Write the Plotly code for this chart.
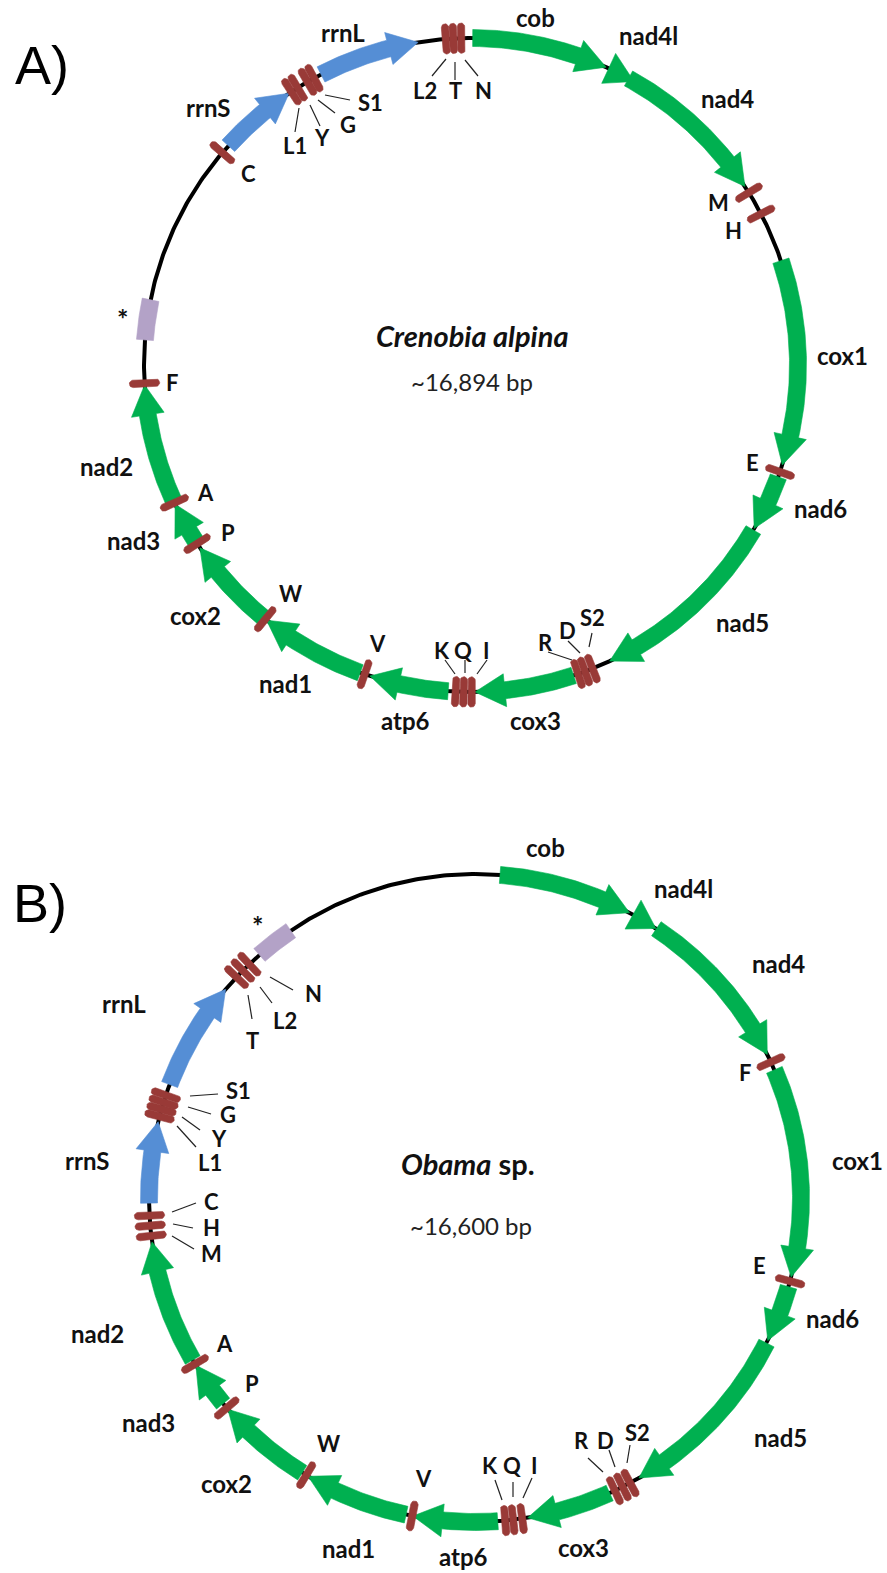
import math
import plotly.graph_objects as go

FIG_W, FIG_H = 887, 1573

# ---------------- Map A: Crenobia alpina ----------------
# positions are angles in degrees, clockwise from 12 o'clock
A_gene_name = ["cob", "nad4l", "nad4", "cox1", "nad6", "nad5", "cox3", "atp6",
               "nad1", "cox2", "nad3", "nad2", "*", "rrnS", "rrnL"]
A_gene_start = [0.3, 24.9, 28.8, 71.4, 110.0, 120.3, 161.7, 184.0,
                199.8, 219.4, 237.3, 245.6, 274.4, 312.1, 332.7]
A_gene_end = [24.4, 29.9, 56.9, 107.8, 120.0, 154.9, 179.3, 198.0,
              218.7, 236.0, 244.8, 266.5, 281.5, 326.2, 350.7]
A_gene_type = ["protein"] * 12 + ["noncoding", "rRNA", "rRNA"]

A_trna_name = ["L2", "T", "N", "M", "H", "E", "S2", "D", "R", "I", "Q", "K",
               "V", "W", "P", "A", "F", "C", "L1", "Y", "G", "S1"]
A_trna_pos = [355.6, 356.9, 358.3, 58.2, 62.5, 109.1, 158.2, 159.6, 160.9,
              179.9, 181.3, 182.7, 199.0, 219.0, 236.9, 245.1, 266.8, 310.5,
              326.7, 328.0, 330.0, 331.3]

A_species = "<i>Crenobia alpina</i>"
A_size = "~16,894 bp"

# ---------------- Map B: Obama sp. ----------------
B_gene_name = ["cob", "nad4l", "nad4", "cox1", "nad6", "nad5", "cox3", "atp6",
               "nad1", "cox2", "nad3", "nad2", "rrnS", "rrnL", "*"]
B_gene_start = [4.4, 29.0, 33.8, 66.7, 105.9, 116.6, 155.6, 176.0,
                192.2, 212.0, 230.6, 240.0, 269.1, 290.5, 318.6]
B_gene_end = [28.3, 33.7, 63.7, 104.1, 116.1, 149.8, 170.7, 191.0,
              210.8, 229.3, 238.9, 262.2, 283.6, 310.1, 325.6]
B_gene_type = ["protein"] * 12 + ["rRNA", "rRNA", "noncoding"]

B_trna_name = ["F", "E", "S2", "D", "R", "I", "Q", "K", "V", "W", "P", "A",
               "M", "H", "C", "L1", "Y", "G", "S1", "T", "L2", "N"]
B_trna_pos = [65.2, 104.9, 151.6, 153.1, 154.6, 171.7, 173.3, 174.7, 191.1,
              211.2, 229.6, 239.2, 263.3, 265.1, 266.9, 284.6, 285.9, 287.2,
              288.5, 313.0, 314.6, 316.2]

B_species = "<i>Obama</i> sp."
B_size = "~16,600 bp"

# ---------------- drawing geometry / style ----------------
GEOM_A = dict(cx=471, cy=365, rx=327, ry=327)
GEOM_B = dict(cx=475, cy=1198, rx=326, ry=324)

COLORS = {"protein": "#00B050", "rRNA": "#558ED5", "noncoding": "#B3A2C7"}
TRNA_COLOR = "#993A37"
BODY_HALF = 8.5
HEAD_HALF = 16.5
HEAD_LEN = 30.0
TRNA_HALF_LEN = 11.5
TRNA_RAD = 3.7

GENE_FONT_SIZE = 24
TRNA_FONT_SIZE = 22
STAR_FONT_SIZE = 27

# label placement (text -> centre) and leader lines for each map
A_label_xy = {
    "rrnL": (343, 32), "rrnS": (208, 107), "C": (248, 173),
    "L1": (295, 145), "Y": (322, 137), "G": (348, 124), "S1": (370, 102),
    "L2": (425, 90), "T": (455, 90), "N": (483, 90),
    "cob": (535, 17), "nad4l": (648, 35), "nad4": (727, 98),
    "M": (718, 202), "H": (733, 230), "cox1": (842, 355), "E": (752, 462),
    "nad6": (820, 508), "nad5": (742, 622),
    "R": (545, 642), "D": (567, 630), "S2": (592, 617),
    "K": (442, 650), "Q": (463, 650), "I": (486, 650),
    "cox3": (535, 720), "atp6": (405, 720), "V": (377, 643),
    "nad1": (285, 683), "W": (290, 593), "cox2": (195, 615),
    "P": (228, 532), "nad3": (133, 540), "A": (205, 492),
    "nad2": (106, 466), "F": (172, 382), "*": (122, 318),
}
A_leaders = [
    ((299, 108), (295, 132)), ((310, 105), (320, 126)),
    ((318, 100), (335, 113)), ((325, 95), (350, 100)),
    ((432, 76), (446, 59)), ((455, 62), (455, 80)), ((465, 60), (478, 76)),
    ((548, 652), (572, 660)), ((568, 641), (580, 653)), ((592, 633), (589, 647)),
    ((445, 660), (455, 674)), ((465, 660), (465, 673)), ((487, 660), (477, 674)),
]
A_title_xy = ((472, 335), (472, 381))

B_label_xy = {
    "cob": (545, 847), "nad4l": (683, 888), "nad4": (778, 963),
    "F": (745, 1072), "cox1": (857, 1160), "E": (759, 1265),
    "nad6": (832, 1318), "nad5": (780, 1437),
    "R": (581, 1440), "D": (605, 1440), "S2": (637, 1432),
    "K": (490, 1465), "Q": (512, 1465), "I": (534, 1465),
    "cox3": (583, 1547), "atp6": (463, 1556), "V": (423, 1478),
    "nad1": (348, 1548), "W": (328, 1443), "cox2": (226, 1483),
    "P": (252, 1383), "nad3": (148, 1422), "A": (224, 1343),
    "nad2": (97, 1333), "M": (211, 1253), "H": (211, 1227), "C": (211, 1201),
    "rrnS": (87, 1160), "L1": (210, 1162), "Y": (219, 1138),
    "G": (228, 1114), "S1": (238, 1090), "rrnL": (124, 1003),
    "T": (252, 1040), "L2": (285, 1020), "N": (313, 993), "*": (257, 925),
}
B_leaders = [
    ((270, 977), (293, 990)), ((260, 987), (272, 1003)), ((248, 995), (252, 1019)),
    ((190, 1096), (218, 1094)), ((188, 1107), (211, 1114)),
    ((182, 1117), (200, 1130)), ((177, 1126), (196, 1147)),
    ((172, 1212), (196, 1203)), ((173, 1224), (193, 1228)), ((172, 1236), (194, 1249)),
    ((495, 1480), (502, 1500)), ((513, 1482), (513, 1497)), ((532, 1478), (523, 1498)),
    ((588, 1458), (603, 1472)), ((609, 1450), (615, 1467)), ((630, 1445), (627, 1463)),
]
B_title_xy = ((468, 1163), (471, 1225))


def on_ring(g, ang, off=0.0):
    t = math.radians(ang)
    return (g["cx"] + (g["rx"] + off) * math.sin(t),
            g["cy"] - (g["ry"] + off) * math.cos(t))


def arc(g, a0, a1, off, step=0.4):
    n = max(1, int(abs(a1 - a0) / step))
    return [on_ring(g, a0 + (a1 - a0) * i / n, off) for i in range(n + 1)]


def arrow_shape(g, a0, a1):
    r_mean = (g["rx"] + g["ry"]) / 2
    head_deg = math.degrees(HEAD_LEN / r_mean)
    ah = max(a0, a1 - head_deg)
    pts = arc(g, a0, ah, BODY_HALF)
    pts += [on_ring(g, ah, HEAD_HALF), on_ring(g, a1, 0), on_ring(g, ah, -HEAD_HALF)]
    pts += arc(g, ah, a0, -BODY_HALF)
    pts.append(pts[0])
    return pts


def band_shape(g, a0, a1):
    pts = arc(g, a0, a1, BODY_HALF) + arc(g, a1, a0, -BODY_HALF)
    pts.append(pts[0])
    return pts


def capsule_shape(g, ang):
    cxp, cyp = on_ring(g, ang)
    t = math.radians(ang)
    ux, uy = math.sin(t), -math.cos(t)       # outward
    vx, vy = math.cos(t), math.sin(t)        # along the ring
    pts = []
    for sign, rng in ((1, range(-90, 91, 15)), (-1, range(90, 271, 15))):
        px = cxp + sign * TRNA_HALF_LEN * ux
        py = cyp + sign * TRNA_HALF_LEN * uy
        for phi in rng:
            p = math.radians(phi)
            pts.append((px + TRNA_RAD * (math.cos(p) * ux + math.sin(p) * vx),
                        py + TRNA_RAD * (math.cos(p) * uy + math.sin(p) * vy)))
    pts.append(pts[0])
    return pts


def poly_trace(pts, color):
    return go.Scatter(x=[p[0] for p in pts], y=[p[1] for p in pts], mode="lines",
                      fill="toself", fillcolor=color, line=dict(width=0.6, color=color),
                      hoverinfo="skip")


fig = go.Figure()
annotations = []
FONT_FAMILY = "Lato, 'Open Sans', sans-serif"


def label_size(txt, trna_set):
    if txt == "*":
        return STAR_FONT_SIZE
    return TRNA_FONT_SIZE if txt in trna_set else GENE_FONT_SIZE


def draw_map(g, names, starts, ends, kinds, tnames, tpos, labels, leaders,
             species, size, title_xy):
    ring = arc(g, 0, 360, 0, step=0.5)
    fig.add_trace(go.Scatter(x=[p[0] for p in ring], y=[p[1] for p in ring], mode="lines",
                             line=dict(color="#000000", width=4), hoverinfo="skip"))
    for nm, a0, a1, kind in zip(names, starts, ends, kinds):
        pts = band_shape(g, a0, a1) if kind == "noncoding" else arrow_shape(g, a0, a1)
        fig.add_trace(poly_trace(pts, COLORS[kind]))
    for nm, a in zip(tnames, tpos):
        fig.add_trace(poly_trace(capsule_shape(g, a), TRNA_COLOR))
    for (x0, y0), (x1, y1) in leaders:
        fig.add_trace(go.Scatter(x=[x0, x1], y=[y0, y1], mode="lines",
                                 line=dict(color="#222222", width=1.2), hoverinfo="skip"))
    trna_set = set(tnames)
    for txt, (x, y) in labels.items():
        annotations.append(dict(x=x, y=y, text="<b>%s</b>" % txt, showarrow=False,
                                xanchor="center", yanchor="middle",
                                font=dict(family=FONT_FAMILY, color="#111111",
                                          size=label_size(txt, trna_set))))
    (sx, sy), (bx, by) = title_xy
    annotations.append(dict(x=sx, y=sy, text="<b>%s</b>" % species,
                            showarrow=False, xanchor="center", yanchor="middle",
                            font=dict(family=FONT_FAMILY, size=29, color="#111111")))
    annotations.append(dict(x=bx, y=by, text=size, showarrow=False,
                            xanchor="center", yanchor="middle",
                            font=dict(family=FONT_FAMILY, size=24, color="#222222")))


draw_map(GEOM_A, A_gene_name, A_gene_start, A_gene_end, A_gene_type,
         A_trna_name, A_trna_pos, A_label_xy, A_leaders, A_species, A_size, A_title_xy)
draw_map(GEOM_B, B_gene_name, B_gene_start, B_gene_end, B_gene_type,
         B_trna_name, B_trna_pos, B_label_xy, B_leaders, B_species, B_size, B_title_xy)

for txt, (x, y) in (("A)", (42, 65)), ("B)", (40, 903))):
    annotations.append(dict(x=x, y=y, text=txt, showarrow=False, xanchor="center",
                            yanchor="middle",
                            font=dict(family="Liberation Sans, Arial, sans-serif",
                                      size=54, color="#000000")))

fig.update_layout(
    width=FIG_W, height=FIG_H, autosize=False,
    margin=dict(l=0, r=0, t=0, b=0),
    paper_bgcolor="white", plot_bgcolor="white", showlegend=False,
    xaxis=dict(range=[0, FIG_W], visible=False, fixedrange=True),
    yaxis=dict(range=[FIG_H, 0], visible=False, fixedrange=True),
    annotations=annotations,
)

fig.write_html("out.html", config={"displayModeBar": False})
